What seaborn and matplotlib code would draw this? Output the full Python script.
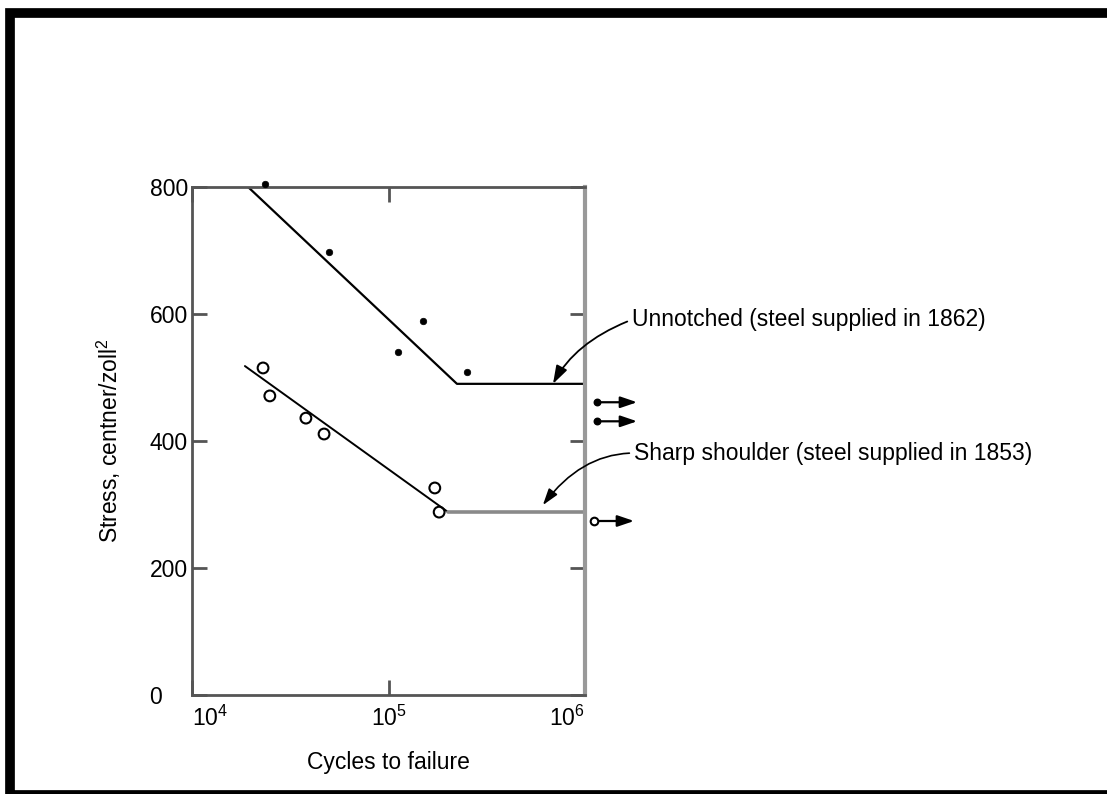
import matplotlib
matplotlib.use("Agg")
import matplotlib.pyplot as plt
from matplotlib.patches import Rectangle
import seaborn as sns

# ---- data ----
unnotched_N = [2.35e4, 4.98e4, 1.12e5, 1.50e5, 2.51e5]
unnotched_S = [805, 698, 540, 589, 509]
unnotched_runout_N = [1.15e6, 1.15e6]
unnotched_runout_S = [461, 431]
unnotched_fit_N = [1.93e4, 2.23e5, 1.0e6]
unnotched_fit_S = [800, 490, 490]

shoulder_N = [2.30e4, 2.49e4, 3.80e4, 4.70e4, 1.72e5, 1.81e5]
shoulder_S = [515, 471, 436, 411, 326, 288]
shoulder_runout_N = [1.11e6]
shoulder_runout_S = [274]
shoulder_fit_N = [1.86e4, 2.01e5]
shoulder_fit_S = [518, 288]
shoulder_plateau_N = [2.01e5, 1.0e6]
shoulder_plateau_S = [288, 288]

x_ticks = [1e4, 1e5, 1e6]
x_ticklabels = [r'$10^4$', r'$10^5$', r'$10^6$']
y_ticks = [0, 200, 400, 600, 800]
y_ticklabels = ['0    ', '200', '400', '600', '800']

label_unnotched = 'Unnotched (steel supplied in 1862)'
label_shoulder = 'Sharp shoulder (steel supplied in 1853)'

# ---- style ----
sns.set_theme(style="white")
plt.rcParams['font.family'] = ['Liberation Sans', 'DejaVu Sans']
plt.rcParams['mathtext.fontset'] = 'custom'
plt.rcParams['mathtext.rm'] = 'Liberation Sans'
plt.rcParams['mathtext.it'] = 'Liberation Sans:italic'
plt.rcParams['mathtext.bf'] = 'Liberation Sans:bold'
plt.rcParams['text.color'] = 'black'
plt.rcParams['axes.labelcolor'] = 'black'

FS = 16.5
fig = plt.figure(figsize=(11.07, 7.94), dpi=100)
fig.patch.set_facecolor('white')
ax = fig.add_axes([0.1734, 0.1247, 0.3551, 0.6398])
ax.set_facecolor('white')

# frame around the figure
fig.add_artist(Rectangle((9.5 / 1107, -1 / 794), (1130 - 9.5) / 1107, (782) / 794,
                         transform=fig.transFigure, fill=False, edgecolor='black',
                         linewidth=7.0, clip_on=False))

# fit lines
sns.lineplot(x=unnotched_fit_N, y=unnotched_fit_S, ax=ax, color='black', lw=1.6,
             sort=False, estimator=None)
sns.lineplot(x=shoulder_fit_N, y=shoulder_fit_S, ax=ax, color='black', lw=1.4,
             sort=False, estimator=None)
sns.lineplot(x=shoulder_plateau_N, y=shoulder_plateau_S, ax=ax, color='#8a8a8a', lw=2.6,
             sort=False, estimator=None)

# points
sns.scatterplot(x=unnotched_N, y=unnotched_S, ax=ax, color='black', marker='o', s=22,
                edgecolor='black', linewidth=0.5, clip_on=False, zorder=5)
ax.scatter(shoulder_N, shoulder_S, s=60, facecolors='none', edgecolors='black',
           linewidths=1.5, clip_on=False, zorder=5)

# run-outs
ax.scatter(unnotched_runout_N, unnotched_runout_S, s=22, color='black', clip_on=False, zorder=5)
ax.scatter(shoulder_runout_N, shoulder_runout_S, s=30, facecolors='white', edgecolors='black',
           linewidths=1.5, clip_on=False, zorder=6)
for n, s in list(zip(unnotched_runout_N, unnotched_runout_S)) + list(zip(shoulder_runout_N, shoulder_runout_S)):
    ax.annotate('', xy=(n * 1.6, s), xytext=(n, s), annotation_clip=False,
                arrowprops=dict(arrowstyle='-|>,head_length=0.5,head_width=0.17',
                                color='black', lw=1.6, shrinkA=0, shrinkB=0,
                                mutation_scale=20))

# curved annotations
ax.annotate(label_unnotched, xy=(6.87e5, 490), xytext=(1.73e6, 591),
            fontsize=FS, ha='left', va='center', annotation_clip=False,
            arrowprops=dict(arrowstyle='-|>,head_length=0.55,head_width=0.18',
                            color='black', lw=1.3, shrinkA=1, shrinkB=0,
                            mutation_scale=20, relpos=(0.0, 0.5),
                            connectionstyle='angle3,angleA=21,angleB=62'))
ax.annotate(label_shoulder, xy=(6.1e5, 299), xytext=(1.775e6, 381),
            fontsize=FS, ha='left', va='center', annotation_clip=False,
            arrowprops=dict(arrowstyle='-|>,head_length=0.5,head_width=0.16',
                            color='black', lw=1.2, shrinkA=1, shrinkB=0,
                            mutation_scale=20, relpos=(0.0, 0.5),
                            connectionstyle='angle3,angleA=0,angleB=53'))

# axes
ax.set_xscale('log')
ax.set_xlim(1e4, 1e6)
ax.set_ylim(0, 800)
ax.set_xticks(x_ticks)
ax.set_xticklabels(x_ticklabels, fontsize=FS)
ax.minorticks_off()
ax.set_yticks(y_ticks)
ax.set_yticklabels(y_ticklabels, fontsize=FS)
labs = ax.get_xticklabels()
labs[0].set_ha('left')
labs[-1].set_ha('right')

ax.tick_params(axis='both', which='major', direction='in', length=11, width=2,
               colors='#555555', labelcolor='black',
               top=True, right=True, left=True, bottom=True)
ax.tick_params(axis='y', pad=3)
ax.tick_params(axis='x', pad=8)

for side in ['left', 'top', 'bottom']:
    ax.spines[side].set_color('#555555')
    ax.spines[side].set_linewidth(2)
ax.spines['right'].set_color('#999999')
ax.spines['right'].set_linewidth(3)

ax.set_xlabel('Cycles to failure', fontsize=FS, labelpad=14)
ax.set_ylabel(r'Stress, centner/zoll$^2$', fontsize=FS, labelpad=19)

fig.savefig('out.png', dpi=100)
